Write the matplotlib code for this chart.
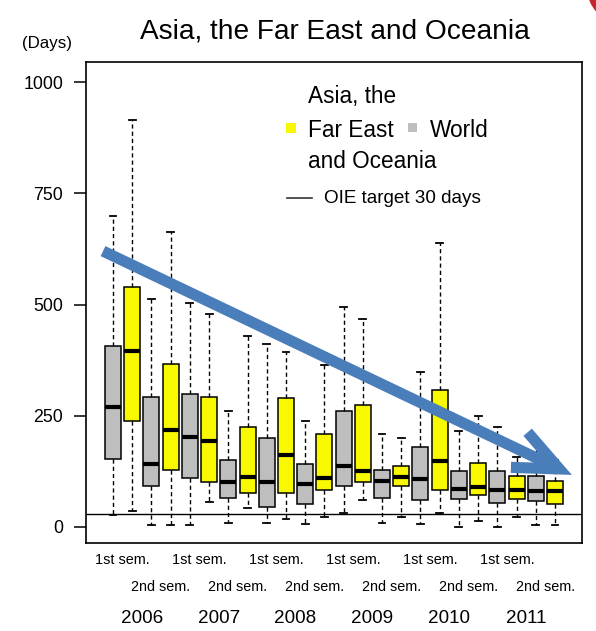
import matplotlib
matplotlib.use("Agg")
import matplotlib.pyplot as plt
import matplotlib.transforms as mtransforms
from matplotlib.patches import Ellipse, Rectangle
from matplotlib.lines import Line2D

plt.rcParams['font.family'] = ['Liberation Sans', 'DejaVu Sans']

years = ['2006', '2007', '2008', '2009', '2010', '2011']
semesters = ['1st sem.', '2nd sem.']

# Five-number summaries per semester (days): whisker low, Q1, median, Q3, whisker high
world_low = [28, 5, 5, 10, 8, 7, 32, 8, 7, 1, 1, 4]
world_q1 = [152, 93, 109, 65, 46, 51, 91, 65, 61, 62, 55, 58]
world_med = [270, 142, 203, 100, 100, 96, 138, 103, 108, 85, 84, 81]
world_q3 = [407, 292, 298, 150, 200, 141, 260, 128, 180, 125, 125, 115]
world_high = [700, 513, 503, 260, 411, 239, 494, 209, 349, 215, 224, 198]

asia_low = [35, 5, 57, 42, 18, 23, 61, 22, 32, 14, 23, 4]
asia_q1 = [238, 128, 102, 77, 77, 83, 100, 91, 83, 71, 63, 52]
asia_med = [395, 219, 193, 113, 162, 110, 126, 113, 148, 90, 84, 81]
asia_q3 = [539, 366, 292, 224, 289, 209, 275, 137, 308, 144, 115, 104]
asia_high = [914, 664, 478, 429, 394, 364, 467, 200, 638, 250, 158, 150]

oie_target = 30

W, H = 596, 631
fig = plt.figure(figsize=(W / 100, H / 100), dpi=100)
fig.patch.set_facecolor('white')


def fx(px):
    return px / W


def fy(py):
    return 1 - py / H


ax = fig.add_axes([fx(86), fy(543), fx(582) - fx(86), fy(62) - fy(543)])

YELLOW = '#F8F800'
GREY = '#BEBEBE'


def stats(lo, q1, med, q3, hi):
    return [dict(whislo=a, q1=b, med=c, q3=d, whishi=e, fliers=[])
            for a, b, c, d, e in zip(lo, q1, med, q3, hi)]


n = len(world_med)
world_pos = [2 * i + 1 for i in range(n)]
asia_pos = [2 * i + 2 for i in range(n)]

common = dict(widths=0.83, patch_artist=True, showfliers=False,
              medianprops=dict(color='black', linewidth=3.0, solid_capstyle='butt'),
              whiskerprops=dict(color='black', linestyle=(0, (3, 2.2)), linewidth=1.0),
              capprops=dict(color='black', linewidth=1.3),
              capwidths=0.36)

ax.bxp(stats(world_low, world_q1, world_med, world_q3, world_high),
       positions=world_pos,
       boxprops=dict(facecolor=GREY, edgecolor='black', linewidth=1.1), **common)
ax.bxp(stats(asia_low, asia_q1, asia_med, asia_q3, asia_high),
       positions=asia_pos,
       boxprops=dict(facecolor=YELLOW, edgecolor='black', linewidth=1.1), **common)

ax.axhline(oie_target, color='black', linewidth=1.0, zorder=1)

ax.set_xlim(-0.406, 25.406)
ax.set_ylim(-36, 1045)
ax.set_yticks([0, 250, 500, 750, 1000])
ax.set_xticks([])
ax.tick_params(axis='y', direction='out', length=8.5, width=1.1, pad=8,
               labelsize=12.8, colors='black')
for sp in ax.spines.values():
    sp.set_linewidth(1.2)
    sp.set_color('black')

# Category labels under the axis
trans = mtransforms.blended_transform_factory(ax.transData, fig.transFigure)
for k, yr in enumerate(years):
    first = 4 * k + 1.5
    second = 4 * k + 3.5
    ax.text(first, fy(564), semesters[0], transform=trans, ha='center',
            va='baseline', fontsize=10.4)
    ax.text(second, fy(591), semesters[1], transform=trans, ha='center',
            va='baseline', fontsize=10.4)
    ax.text(4 * k + 2.5, fy(623), yr, transform=trans, ha='center',
            va='baseline', fontsize=13.6)

# Titles
fig.text(fx(335), fy(38), 'Asia, the Far East and Oceania', ha='center',
         va='baseline', fontsize=20.2)
fig.text(fx(22), fy(48), '(Days)', ha='left', va='baseline', fontsize=12.2)

# Legend
LEG = 16.3
fig.text(fx(308), fy(103), 'Asia, the', fontsize=LEG, va='baseline')
fig.text(fx(308), fy(137), 'Far East', fontsize=LEG, va='baseline')
fig.text(fx(308), fy(168), 'and Oceania', fontsize=LEG, va='baseline')
fig.text(fx(430), fy(137), 'World', fontsize=LEG, va='baseline')
fig.patches.append(Rectangle((fx(286), fy(133)), fx(10), 10 / H,
                             transform=fig.transFigure, facecolor=YELLOW,
                             edgecolor='none'))
fig.patches.append(Rectangle((fx(408), fy(132)), fx(9), 9 / H,
                             transform=fig.transFigure, facecolor=GREY,
                             edgecolor='none'))
fig.lines.append(Line2D([fx(287), fx(312)], [fy(198), fy(198)],
                        transform=fig.transFigure, color='#333333',
                        linewidth=1.2))
fig.text(fx(324), fy(203), 'OIE target 30 days', fontsize=13.6, va='baseline')

# Downward trend arrow
ax.annotate('', xy=(24.88, 117), xytext=(0.48, 620), xycoords='data',
            textcoords='data',
            arrowprops=dict(arrowstyle='->,head_length=32,head_width=14',
                            mutation_scale=1, color='#4A7EBB', linewidth=8,
                            shrinkA=0, shrinkB=0, capstyle='butt',
                            joinstyle='miter'),
            annotation_clip=False, zorder=10)

# Corner badge
fig.patches.append(Ellipse((fx(622), fy(-12)), 70 / W, 70 / H,
                           transform=fig.transFigure, facecolor='#C4262E',
                           edgecolor='none'))

fig.savefig('out.png', dpi=100)
